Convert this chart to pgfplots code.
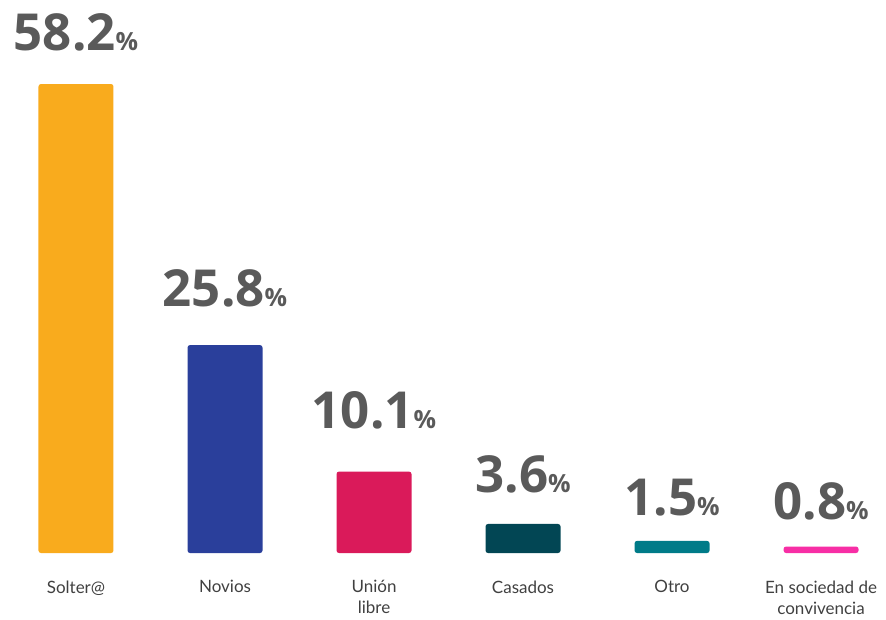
\documentclass[border=0pt]{standalone}
\usepackage{fontspec}
\setmainfont{Open Sans}
\newfontfamily\labfont{Lato}
\usepackage{pgfplots}
\pgfplotsset{compat=1.18}
\definecolor{cA}{HTML}{F9AB1D}
\definecolor{cB}{HTML}{2A3F9B}
\definecolor{cC}{HTML}{DA1A5A}
\definecolor{cD}{HTML}{024654}
\definecolor{cE}{HTML}{007B88}
\definecolor{cF}{HTML}{F72EA5}
\definecolor{numgray}{HTML}{5A5A5A}
\definecolor{labgray}{HTML}{404040}
\begin{document}
\begin{tikzpicture}
\useasboundingbox (0,0) rectangle (886pt,619pt);
\begin{axis}[
  at={(0pt,66pt)}, anchor=south west,
  scale only axis, width=886pt, height=553pt,
  xmin=-0.510, xmax=5.436, ymin=0, ymax=68.63,
  axis line style={draw=none},
  ytick=\empty,
  xtick={0,1,2,3,4,5},
  xticklabels={Solter@, Novios, {Unión\\libre}, Casados, Otro, {En sociedad de\\convivencia}},
  major tick length=0pt,
  xticklabel style={align=center, font=\labfont\fontsize{17}{21}\selectfont, text=labgray, anchor=north, yshift=-24pt},
  ybar, bar width=75pt, bar shift=0pt,
  clip=false,
]
\addplot[draw=none, fill=cA, rounded corners=2.5pt] coordinates {(0,58.2)};
\addplot[draw=none, fill=cB, rounded corners=2.5pt] coordinates {(1,25.8)};
\addplot[draw=none, fill=cC, rounded corners=2.5pt] coordinates {(2,10.1)};
\addplot[draw=none, fill=cD, rounded corners=2.5pt] coordinates {(3,3.6)};
\addplot[draw=none, fill=cE, rounded corners=2.5pt] coordinates {(4,1.5)};
\addplot[draw=none, fill=cF, rounded corners=2.5pt] coordinates {(5,0.8)};
% value labels at their baselines
\addplot[draw=none, mark=none, sharp plot, forget plot,
  point meta=explicit,
  nodes near coords={\pgfmathprintnumber[fixed,fixed zerofill,precision=1,assume math mode=true]{\pgfplotspointmeta}{\fontsize{25}{25}\selectfont\%}},
  every node near coord/.append style={anchor=base, text=numgray, inner sep=0pt, font=\fontsize{51}{51}\selectfont\bfseries},
] coordinates {
 (0,62.4) [58.2]
 (1,30.65) [25.8]
 (2,15.5) [10.1]
 (3,7.45) [3.6]
 (4,4.7) [1.5]
 (5,4.1) [0.8]
};
\end{axis}
\end{tikzpicture}
\end{document}
